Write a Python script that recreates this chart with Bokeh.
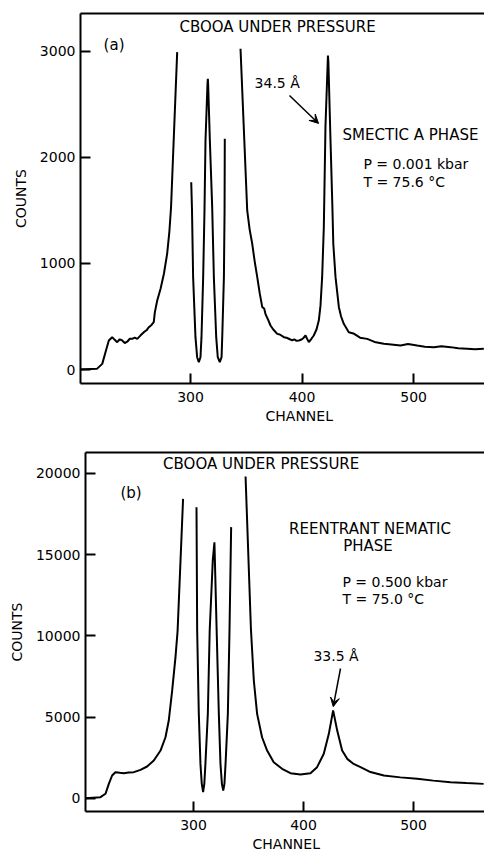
from bokeh.plotting import figure
from bokeh.layouts import column, row
from bokeh.models import LinearAxis, FixedTicker, Arrow, VeeHead, Title
from bokeh.core.properties import value
from bokeh.embed import file_html
from bokeh.resources import INLINE

FONT = "DejaVu Sans"

# ---------------- data: panel (a) ----------------
a_ch1 = [201.3, 216.0, 220.8, 223.7, 226.7, 229.7, 232.0, 234.2, 236.5, 238.7, 241.0, 243.2, 245.5,
         247.7, 250.0, 252.2, 255.0, 258.1, 260.5, 262.6, 265.0, 267.0, 268.0, 270.1, 273.1, 276.1,
         279.0, 281.0, 282.5, 288.0]
a_ct1 = [0, 6, 53, 163, 274, 305, 280, 258, 285, 274, 250, 262, 290,
         289, 300, 289, 320, 352, 370, 399, 420, 446, 541, 651, 761, 903,
         1091, 1300, 1530, 2994]
a_ch2 = [300.6, 301.3, 302.3, 304.4, 305.9, 307.4, 308.9, 309.8, 311.3, 312.5, 313.4, 315.2, 315.5,
         315.8, 317.3, 319.4, 320.9, 323.0, 324.4, 326.2, 327.8, 328.4, 329.9, 330.5, 330.7]
a_ct2 = [1767, 1500, 871, 305, 116, 69, 116, 305, 871, 1500, 2160, 2700, 2742,
         2680, 2160, 1531, 871, 305, 116, 69, 116, 305, 871, 1500, 2176]
a_ch3 = [344.8, 350.8, 353.0, 355.3, 357.5, 359.8, 362.0, 364.3, 366.0, 367.3, 369.5, 371.7, 374.0,
         377.7, 380.0, 383.7, 386.0, 388.0, 391.2, 393.0, 395.0, 397.1, 399.0, 401.0, 403.1, 404.5,
         406.1, 408.0, 410.5, 413.0, 415.0, 416.5, 418.0, 419.5, 421.0, 423.2, 423.6, 425.5, 427.2,
         428.0, 430.0, 433.0, 435.0, 437.4, 441.9, 446.0, 452.0, 458.4, 465.0, 473.3, 480.0, 488.3,
         495.0, 503.2, 510.0, 518.2, 525.0, 533.1, 540.0, 548.1, 555.0, 563.0]
a_ct3 = [3025, 1500, 1320, 1186, 1020, 871, 720, 588, 575, 520, 470, 415, 380,
         336, 330, 305, 300, 290, 274, 285, 270, 274, 280, 295, 321, 290,
         258, 285, 321, 380, 462, 600, 871, 1342, 2300, 2962, 2900, 2160, 1531,
         1186, 871, 588, 500, 431, 352, 340, 300, 289, 260, 242, 235, 226,
         240, 226, 215, 211, 220, 211, 200, 195, 190, 195]

a_xticks = [300, 400, 500]
a_yticks = [0, 1000, 2000, 3000]

# ---------------- data: panel (b) ----------------
b_ch1 = [201.8, 215.4, 220.0, 223.0, 226.0, 229.0, 233.0, 236.6, 241.0, 245.7, 251.8, 257.8, 263.9,
         270.0, 274.5, 277.5, 280.6, 283.6, 285.5, 290.5]
b_ct1 = [20, 80, 290, 900, 1415, 1620, 1580, 1560, 1600, 1620, 1760, 1970, 2340,
         2950, 3770, 4800, 6650, 8700, 10300, 18440]
b_ch2 = [302.7, 303.3, 304.8, 306.3, 307.5, 308.7, 309.8, 310.8, 313.0, 314.7, 317.5, 319.0, 321.0,
         323.0, 324.5, 325.8, 327.0, 328.1, 329.1, 331.2, 332.7, 334.2]
b_ct2 = [17930, 10340, 5210, 2130, 900, 390, 900, 2130, 5210, 10340, 14650, 15770, 10400,
         5210, 2130, 900, 490, 900, 2130, 5210, 10340, 16700]
b_ch3 = [347.3, 352.2, 354.8, 357.8, 362.3, 366.9, 372.9, 380.5, 388.1, 397.2, 406.3, 412.3, 418.4,
         423.0, 426.9, 430.6, 435.1, 439.7, 445.0, 451.8, 460.0, 473.0, 488.0, 503.3, 518.0, 533.6,
         548.0, 563.7]
b_ct3 = [19820, 10400, 7260, 5210, 3770, 2950, 2230, 1830, 1560, 1480, 1560, 1930, 2750,
         3980, 5420, 4180, 2950, 2440, 2150, 1930, 1650, 1415, 1300, 1210, 1100, 1000,
         950, 900]

b_xticks = [300, 400, 500]
b_yticks = [0, 5000, 10000, 15000, 20000]


def make_panel(height, xr, yr, borders, xticks, yticks, segments, chan_offset):
    left, top, bottom = borders
    p = figure(width=484, height=height, x_range=xr, y_range=yr,
               output_backend="svg", toolbar_location=None,
               min_border_left=left, min_border_right=0,
               min_border_top=top, min_border_bottom=bottom)
    p.outline_line_color = None
    p.xgrid.visible = False
    p.ygrid.visible = False
    p.background_fill_color = "white"
    p.border_fill_color = "white"
    for ax in (p.xaxis[0], p.yaxis[0]):
        ax.axis_line_width = 2
        ax.axis_line_color = "black"
        ax.major_tick_in = 10
        ax.major_tick_out = 0
        ax.major_tick_line_width = 2
        ax.minor_tick_line_color = None
        ax.major_label_text_font = FONT
        ax.major_label_text_font_size = "14px"
        ax.major_label_text_color = "black"
        ax.axis_label_text_font = FONT
        ax.axis_label_text_font_size = "14px"
        ax.axis_label_text_font_style = "normal"
        ax.axis_label_text_color = "black"
    p.xaxis[0].ticker = FixedTicker(ticks=xticks)
    p.yaxis[0].ticker = FixedTicker(ticks=yticks)
    p.xaxis[0].major_label_standoff = 8
    p.yaxis[0].major_label_standoff = 5
    p.yaxis[0].major_label_orientation = "horizontal"
    p.yaxis[0].axis_label = "COUNTS"
    p.yaxis[0].axis_label_standoff = 8
    top_ax = LinearAxis(axis_line_width=2, axis_line_color="black",
                        ticker=FixedTicker(ticks=[]),
                        major_tick_line_color=None, minor_tick_line_color=None,
                        major_label_standoff=0, major_tick_out=0, major_tick_in=0)
    p.add_layout(top_ax, "above")
    p.add_layout(Title(text="CHANNEL", align="left", offset=chan_offset, standoff=2,
                       text_font=FONT, text_font_size="14px", text_font_style="normal",
                       text_color="black"), "below")
    for xs, ys in segments:
        p.line(xs, ys, line_color="black", line_width=2)
    return p


def add_text(p, x, y, txt, size="14px", align="left"):
    p.text(x=[x], y=[y], text=[txt], text_font=value(FONT), text_font_size=size,
           text_color="black", text_align=align, text_baseline="middle")


# ---------- panel (a) ----------
p1 = make_panel(432, (201.3, 563.6), (-132, 3358), (80, 13, 49), a_xticks, a_yticks,
                [(a_ch1, a_ct1), (a_ch2, a_ct2), (a_ch3, a_ct3)], 185)
add_text(p1, 378, 3226, "CBOOA UNDER PRESSURE", size="15px", align="center")
add_text(p1, 222, 3057, "(a)", size="15px")
add_text(p1, 357.4, 2698, "34.5 Å")
add_text(p1, 436.3, 2208, "SMECTIC A PHASE", size="15px")
add_text(p1, 455, 1943, "P = 0.001 kbar")
add_text(p1, 455, 1764, "T = 75.6 °C")
p1.add_layout(Arrow(x_start=388.7, y_start=2585, x_end=414.8, y_end=2321,
                    line_width=1.5, line_color="black",
                    end=VeeHead(size=9, fill_color="black", line_color="black")))

# ---------- panel (b) ----------
p2 = make_panel(423, (201.8, 564.5), (-800, 21292), (85, 20, 44), b_xticks, b_yticks,
                [(b_ch1, b_ct1), (b_ch2, b_ct2), (b_ch3, b_ct3)], 167)
add_text(p2, 361.5, 20615, "CBOOA UNDER PRESSURE", size="15px", align="center")
add_text(p2, 233.6, 18770, "(b)", size="15px")
add_text(p2, 460.4, 16600, "REENTRANT NEMATIC", size="15px", align="center")
add_text(p2, 458.6, 15560, "PHASE", size="15px", align="center")
add_text(p2, 435.4, 13350, "P = 0.500 kbar")
add_text(p2, 435.4, 12300, "T = 75.0 °C")
add_text(p2, 409, 8740, "33.5 Å")
p2.add_layout(Arrow(x_start=433.6, y_start=8000, x_end=427.0, y_end=5650,
                    line_width=1.5, line_color="black",
                    end=VeeHead(size=9, fill_color="black", line_color="black")))

layout = column(row(p1), row(p2), spacing=0)
open("out.html", "w").write(file_html(layout, INLINE))
